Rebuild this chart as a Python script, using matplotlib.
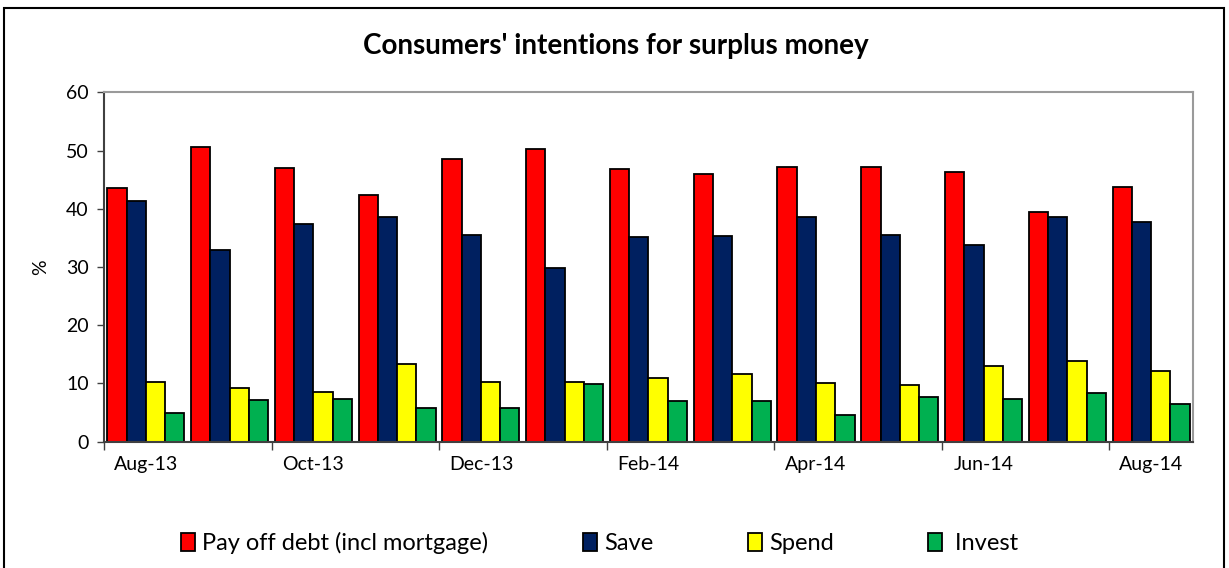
import numpy as np
import matplotlib
matplotlib.use('Agg')
import matplotlib.pyplot as plt
from matplotlib.patches import Rectangle

plt.rcParams['font.family'] = ['Lato', 'DejaVu Sans']

# data
months = ['Aug-13', 'Sep-13', 'Oct-13', 'Nov-13', 'Dec-13', 'Jan-14', 'Feb-14',
          'Mar-14', 'Apr-14', 'May-14', 'Jun-14', 'Jul-14', 'Aug-14']
pay_off_debt = [43.5, 50.6, 47.0, 42.4, 48.5, 50.3, 46.8, 46.0, 47.2, 47.2, 46.3, 39.5, 43.7]
save = [41.4, 33.0, 37.3, 38.6, 35.5, 29.8, 35.2, 35.4, 38.6, 35.5, 33.7, 38.5, 37.7]
spend = [10.2, 9.3, 8.6, 13.3, 10.2, 10.2, 11.0, 11.6, 10.1, 9.7, 13.0, 13.9, 12.1]
invest = [5.0, 7.2, 7.4, 5.7, 5.7, 9.9, 7.0, 7.0, 4.6, 7.6, 7.4, 8.4, 6.5]

series = [
    ('Pay off debt (incl mortgage)', pay_off_debt, '#FF0000'),
    ('Save', save, '#002060'),
    ('Spend', spend, '#FFFF00'),
    (' Invest', invest, '#00B050'),
]

fig = plt.figure(figsize=(12.29, 5.68), dpi=100)
ax = fig.add_axes([0.0846, 0.2224, 0.8861, 0.6151])

x = np.arange(len(months))
width = 0.23
for i, (name, vals, col) in enumerate(series):
    ax.bar(x + (i - 1.5) * width, vals, width, color=col, edgecolor='black',
           linewidth=1.3, label=name)

ax.set_xlim(-0.5, len(months) - 0.5)
ax.set_ylim(0, 60)
ax.set_yticks(range(0, 61, 10))
ax.tick_params(axis='y', labelsize=14, length=5, width=1, color='#404040', pad=6)

# tick marks between groups, labels every second month
ax.set_xticks(np.arange(-0.5, len(months), 2))
ax.set_xticklabels([])
ax.set_xticks(x[::2], minor=True)
ax.set_xticklabels(months[::2], minor=True, fontsize=14)
ax.tick_params(axis='x', which='major', length=6, width=1, color='#404040')
ax.tick_params(axis='x', which='minor', length=0, pad=10)

ax.set_ylabel('%', fontsize=14, labelpad=12)

for s in ['top', 'right']:
    ax.spines[s].set_color('#9a9a9a')
    ax.spines[s].set_linewidth(1.5)
for s in ['left', 'bottom']:
    ax.spines[s].set_color('#404040')
    ax.spines[s].set_linewidth(1.5)

fig.text(0.501, 0.919, "Consumers' intentions for surplus money", ha='center', va='center',
         fontsize=20, fontweight='bold')

fig.legend(loc='center', bbox_to_anchor=(0.488, 0.044), ncol=4, frameon=False,
           fontsize=17, handlelength=0.6, handleheight=0.8, handletextpad=0.3,
           columnspacing=4.0)

# outer chart border
fig.patches.append(Rectangle((0.003, -0.01), 0.993, 0.996, transform=fig.transFigure,
                             fill=False, edgecolor='black', linewidth=1.5))

fig.savefig('out.png', dpi=100)
